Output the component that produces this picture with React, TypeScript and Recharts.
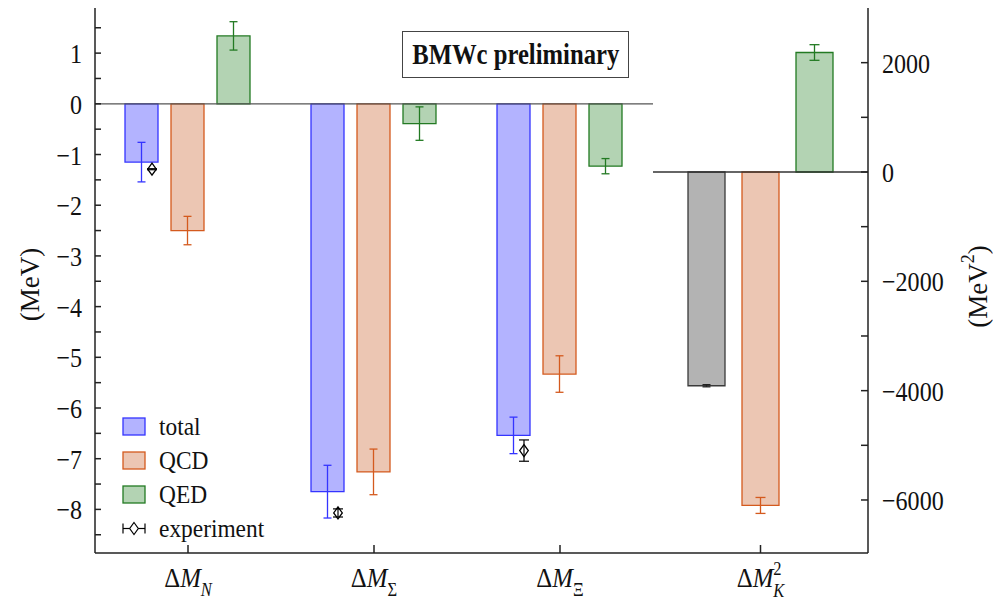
import React from 'react';
import {
  ComposedChart,
  Bar,
  ErrorBar,
  Scatter,
  XAxis,
  YAxis,
  ReferenceLine,
  Legend,
} from 'recharts';

// mass splittings, MeV
const baryons = ['N', 'Σ', 'Ξ'];
const totalMeV = [-1.15, -7.65, -6.54];
const totalErr = [0.39, 0.52, 0.36];
const qcdMeV = [-2.5, -7.26, -5.33];
const qcdErr = [0.28, 0.45, 0.36];
const qedMeV = [1.34, -0.39, -1.23];
const qedErr = [0.28, 0.33, 0.15];
const expMeV = [-1.29, -8.07, -6.84];
const expErr = [0.01, 0.08, 0.21];

// kaon mass-squared splitting, MeV^2
const kaonName = ['K'];
const kaonTotal = [-3910];
const kaonTotalErr = [20];
const kaonQcd = [-6100];
const kaonQcdErr = [146];
const kaonQed = [2186];
const kaonQedErr = [143];

const mevTicks = [-8.5, -8, -7.5, -7, -6.5, -6, -5.5, -5, -4.5, -4, -3.5, -3, -2.5, -2, -1.5, -1, -0.5, 0, 0.5, 1, 1.5];
const mev2Ticks = [-6000, -5000, -4000, -3000, -2000, -1000, 0, 1000, 2000];

const legendNames = ['total', 'QCD', 'QED', 'experiment'];

const leftData = baryons.map((name, i) => ({
  name,
  total: totalMeV[i],
  totalErr: totalErr[i],
  qcd: qcdMeV[i],
  qcdErr: qcdErr[i],
  qed: qedMeV[i],
  qedErr: qedErr[i],
  exp: expMeV[i],
  expErr: expErr[i],
}));

const rightData = kaonName.map((name, i) => ({
  name,
  total: kaonTotal[i],
  totalErr: kaonTotalErr[i],
  qcd: kaonQcd[i],
  qcdErr: kaonQcdErr[i],
  qed: kaonQed[i],
  qedErr: kaonQedErr[i],
}));

const FONT = "'Liberation Serif', 'DejaVu Serif', serif";
const INK = '#111';
const serif = { fontFamily: FONT };

const C = {
  total: { fill: '#b3b3ff', stroke: '#3434ff' },
  qcd: { fill: '#ecc6b3', stroke: '#d45a1e' },
  qed: { fill: '#b3d3b3', stroke: '#237a23' },
  gray: { fill: '#b3b3b3', stroke: '#3a3a3a' },
};

const minus = (v: number) => (v < 0 ? `\u2212${Math.abs(v)}` : `${v}`);
const fmt = (v: number) => (Number.isInteger(v) ? minus(v) : '');
const fmtK = (v: number) => (v % 2000 === 0 ? minus(v) : '');

const latin = (s: string) => /^[A-Za-z]+$/.test(s);

// narrow-ish serif numbers, like the TeX labels of the original
function NumTick({ x, y, payload, anchor, format }: any) {
  const s = format(payload.value);
  if (!s) return <g />;
  return (
    <g transform={`translate(${x},${y}) scale(0.86,1)`}>
      <text textAnchor={anchor} dy="0.36em" style={serif} fontSize={28} fill={INK}>
        {s}
      </text>
    </g>
  );
}

function MassTick({ x, y, payload, squared }: any) {
  const sub = String(payload.value);
  return (
    <g transform={`translate(${x},${y}) scale(0.92,1)`}>
      <text textAnchor="middle" style={serif} fontSize={27} fill={INK}>
        <tspan>Δ</tspan>
        <tspan fontStyle="italic">M</tspan>
        {squared ? (
          <>
            <tspan fontSize={18} dy={-12}>2</tspan>
            <tspan fontSize={18} fontStyle="italic" dx={-9} dy={22}>{sub}</tspan>
          </>
        ) : (
          <tspan fontSize={18} fontStyle={latin(sub) ? 'italic' : 'normal'} dy={9}>{sub}</tspan>
        )}
      </text>
    </g>
  );
}

function Diamond({ cx, cy }: any) {
  if (cx == null || cy == null) return <g />;
  return (
    <polygon
      points={`${cx},${cy - 6} ${cx + 4.3},${cy} ${cx},${cy + 6} ${cx - 4.3},${cy}`}
      fill="none"
      stroke="#000"
      strokeWidth={1.3}
    />
  );
}

function SideTitle({ viewBox, text, sup, cx, cyShift = 0 }: any) {
  const vb = viewBox || { x: 0, y: 8, width: 95, height: 545 };
  const x = vb.x + cx;
  const y = vb.y + vb.height / 2 + cyShift;
  return (
    <text
      x={x}
      y={y}
      transform={`rotate(-90 ${x} ${y})`}
      textAnchor="middle"
      dominantBaseline="central"
      style={serif}
      fontSize={27}
      fill={INK}
    >
      {text}
      {sup ? <tspan fontSize={18} dy={-10}>{sup}</tspan> : null}
      {sup ? <tspan dy={10}>)</tspan> : ')'}
    </text>
  );
}

function KeyPanel() {
  const fills = [C.total, C.qcd, C.qed];
  return (
    <svg width={180} height={140} style={{ display: 'block' }}>
      {legendNames.map((name, i) => {
        const top = 8 + i * 34;
        const mid = top + 8.5;
        return (
          <g key={name}>
            {i < 3 ? (
              <rect x={8} y={top} width={22} height={17} fill={fills[i].fill} stroke={fills[i].stroke} strokeWidth={1.3} />
            ) : (
              <g stroke="#000" strokeWidth={1.2} fill="none">
                <line x1={8} y1={mid} x2={30} y2={mid} />
                <line x1={8} y1={mid - 5} x2={8} y2={mid + 5} />
                <line x1={30} y1={mid - 5} x2={30} y2={mid + 5} />
                <polygon points={`19,${mid - 6} 23.3,${mid} 19,${mid + 6} 14.7,${mid}`} fill="#fff" />
              </g>
            )}
            <g transform={`translate(44,${mid + 8}) scale(0.9,1)`}>
              <text style={serif} fontSize={26} fill={INK}>
                {name}
              </text>
            </g>
          </g>
        );
      })}
    </svg>
  );
}

export default function App() {
  return (
    <div style={{ position: 'absolute', left: 0, top: 0, width: 993, height: 605, background: '#fff', fontFamily: FONT }}>
      <div style={{ position: 'absolute', left: 0, top: 0 }}>
        <ComposedChart
          width={653}
          height={605}
          data={leftData}
          margin={{ top: 8, right: 0, bottom: 0, left: 0 }}
          barCategoryGap={30}
          barGap={13}
        >
          <XAxis
            dataKey="name"
            height={52}
            stroke="#222"
            strokeWidth={1.5}
            tickSize={-8}
            tickMargin={42}
            tick={<MassTick />}
            interval={0}
          />
          <XAxis xAxisId="top" dataKey="name" orientation="top" height={0} tick={false} tickLine={false} stroke="#222" strokeWidth={1.5} />
          <XAxis xAxisId="exp" dataKey="name" hide padding={{ left: -36, right: 36 }} />
          <YAxis
            yAxisId="mev"
            width={95}
            type="number"
            domain={[-8.86, 1.89]}
            ticks={mevTicks}
            interval={0}
            tickSize={-6}
            tickMargin={19}
            stroke="#222"
            strokeWidth={1.5}
            tick={<NumTick anchor="end" format={fmt} />}
            label={<SideTitle text="(MeV" cx={30} cyShift={4} />}
          />
          <Bar yAxisId="mev" dataKey="total" fill={C.total.fill} stroke={C.total.stroke} strokeWidth={1.3} isAnimationActive={false}>
            <ErrorBar dataKey="totalErr" width={4} stroke={C.total.stroke} strokeWidth={1.3} />
          </Bar>
          <Bar yAxisId="mev" dataKey="qcd" fill={C.qcd.fill} stroke={C.qcd.stroke} strokeWidth={1.3} isAnimationActive={false}>
            <ErrorBar dataKey="qcdErr" width={4} stroke={C.qcd.stroke} strokeWidth={1.3} />
          </Bar>
          <Bar yAxisId="mev" dataKey="qed" fill={C.qed.fill} stroke={C.qed.stroke} strokeWidth={1.3} isAnimationActive={false}>
            <ErrorBar dataKey="qedErr" width={4} stroke={C.qed.stroke} strokeWidth={1.3} />
          </Bar>
          <Scatter xAxisId="exp" yAxisId="mev" dataKey="exp" shape={<Diamond />} isAnimationActive={false}>
            <ErrorBar dataKey="expErr" direction="y" width={5} stroke="#000" strokeWidth={1.2} />
          </Scatter>
          <ReferenceLine yAxisId="mev" y={0} stroke="#555" strokeWidth={1.3} />
          <Legend
            layout="vertical"
            align="center"
            verticalAlign="middle"
            content={<KeyPanel />}
            wrapperStyle={{ left: 115, top: 410, width: 180 }}
          />
        </ComposedChart>
      </div>

      <div style={{ position: 'absolute', left: 640, top: 0 }}>
        <ComposedChart
          width={353}
          height={605}
          data={rightData}
          margin={{ top: 8, right: 0, bottom: 0, left: 13 }}
          barCategoryGap={35}
          barGap={17}
        >
          <XAxis
            dataKey="name"
            height={52}
            stroke="#222"
            strokeWidth={1.5}
            tickSize={-8}
            tickMargin={42}
            tick={<MassTick squared />}
          />
          <XAxis xAxisId="top" dataKey="name" orientation="top" height={0} tick={false} tickLine={false} stroke="#222" strokeWidth={1.5} />
          <YAxis yAxisId="frame" orientation="left" width={0} type="number" domain={[0, 1]} tick={false} tickLine={false} stroke="#222" strokeWidth={1.5} />
          <YAxis
            yAxisId="mev2"
            orientation="right"
            width={125}
            type="number"
            domain={[-6970, 3000]}
            ticks={mev2Ticks}
            interval={0}
            tickSize={-7}
            tickMargin={21}
            stroke="#222"
            strokeWidth={1.5}
            tick={<NumTick anchor="start" format={fmtK} />}
            label={<SideTitle text="(MeV" sup="2" cx={110} cyShift={6} />}
          />
          <Bar yAxisId="mev2" dataKey="total" fill={C.gray.fill} stroke={C.gray.stroke} strokeWidth={1.3} isAnimationActive={false}>
            <ErrorBar dataKey="totalErr" width={4} stroke="#222" strokeWidth={1.3} />
          </Bar>
          <Bar yAxisId="mev2" dataKey="qcd" fill={C.qcd.fill} stroke={C.qcd.stroke} strokeWidth={1.3} isAnimationActive={false}>
            <ErrorBar dataKey="qcdErr" width={5} stroke={C.qcd.stroke} strokeWidth={1.3} />
          </Bar>
          <Bar yAxisId="mev2" dataKey="qed" fill={C.qed.fill} stroke={C.qed.stroke} strokeWidth={1.3} isAnimationActive={false}>
            <ErrorBar dataKey="qedErr" width={5} stroke={C.qed.stroke} strokeWidth={1.3} />
          </Bar>
          <ReferenceLine yAxisId="mev2" y={0} stroke="#333" strokeWidth={1.3} />
        </ComposedChart>
      </div>

      <div
        style={{
          position: 'absolute',
          left: 402,
          top: 31,
          width: 227,
          height: 47,
          boxSizing: 'border-box',
          border: '1.5px solid #444',
          background: '#fff',
          display: 'flex',
          alignItems: 'center',
          justifyContent: 'center',
          fontFamily: FONT,
          fontWeight: 'bold',
          fontSize: 29,
          color: INK,
          whiteSpace: 'nowrap',
        }}
      >
        <span style={{ display: 'inline-block', transform: 'scaleX(0.85)' }}>BMWc preliminary</span>
      </div>
    </div>
  );
}
